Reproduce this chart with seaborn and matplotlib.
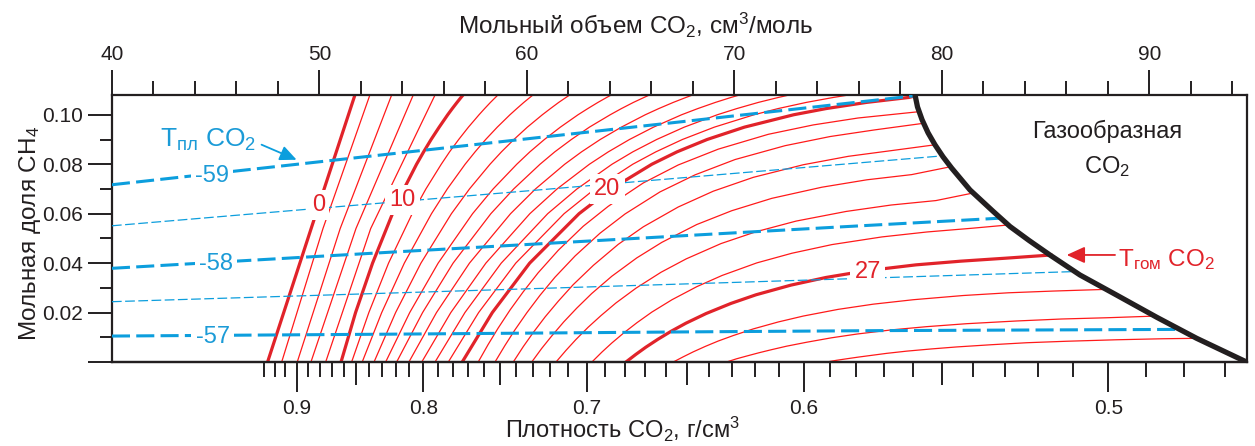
"""Vx diagram for CO2-CH4 inclusions: homogenisation and melting isolines."""

import numpy as np
import matplotlib
matplotlib.use("Agg")
import matplotlib.pyplot as plt
from matplotlib.ticker import FixedLocator, MultipleLocator, NullLocator
import seaborn as sns

sns.set_style("ticks")
plt.rcParams["font.family"] = ["Liberation Sans", "DejaVu Sans"]
plt.rcParams["mathtext.fontset"] = "custom"
plt.rcParams["mathtext.rm"] = "Liberation Sans"
plt.rcParams["mathtext.it"] = "Liberation Sans:italic"
plt.rcParams["mathtext.bf"] = "Liberation Sans:bold"
plt.rcParams["lines.scale_dashes"] = False

M_CO2 = 44.01  # g/mol, molar volume -> density

# ── Homogenisation isotherms (Tгом CO2, °C): molar volume V vs x(CH4) ─────
th_temps = [0, 2, 4, 6, 8, 10, 11, 12, 13, 14, 15, 16, 17, 18, 19, 20,
            21, 22, 23, 24, 25, 26, 27, 28, 29, 30]
th_bold = [0, 10, 20, 27]

low_x = [0, 0.054, 0.108]
steep_x = [0, 0.02, 0.04, 0.06, 0.07, 0.08, 0.085, 0.09, 0.095, 0.10,
           0.1025, 0.105, 0.107, 0.108]

th_v = [
    [47.50, 49.60, 51.71],
    [48.18, 50.17, 52.43],
    [48.93, 51.00, 53.48],
    [49.59, 51.76, 54.52],
    [50.30, 52.47, 55.57],
    [51.04, 51.74, 52.56, 53.52, 54.07, 54.68, 55.02, 55.38, 55.77, 56.18, 56.40, 56.63, 56.82, 56.92],
    [51.55, 52.38, 53.33, 54.47, 55.13, 55.87, 56.27, 56.71, 57.18, 57.69, 57.96, 58.24, 58.48, 58.60],
    [52.06, 53.00, 54.09, 55.40, 56.16, 57.02, 57.50, 58.01, 58.57, 59.18, 59.51, 59.85, 60.14, 60.29],
    [52.63, 53.67, 54.89, 56.36, 57.23, 58.22, 58.77, 59.37, 60.02, 60.74, 61.13, 61.53, 61.88, 62.06],
    [53.19, 54.35, 55.72, 57.38, 58.37, 59.51, 60.14, 60.84, 61.61, 62.46, 62.93, 63.42, 63.84, 64.06],
    [53.72, 54.97, 56.44, 58.26, 59.36, 60.63, 61.34, 62.14, 63.01, 64.01, 64.55, 65.13, 65.64, 65.90],
    [54.31, 55.64, 57.23, 59.21, 60.41, 61.82, 62.63, 63.53, 64.55, 65.70, 66.35, 67.05, 67.66, 67.98],
    [54.93, 56.33, 58.02, 60.14, 61.45, 63.01, 63.92, 64.94, 66.10, 67.45, 68.23, 69.08, 69.83, 70.24],
    [55.57, 57.01, 58.76, 61.00, 62.41, 64.10, 65.10, 66.25, 67.58, 69.17, 70.11, 71.15, 72.11, 72.64],
    [56.21, 57.67, 59.46, 61.79, 63.27, 65.10, 66.21, 67.49, 69.03, 70.94, 72.10, 73.46, 74.76, 75.50],
    [56.88, 58.33, 60.13, 62.51, 64.06, 66.02, 67.23, 68.68, 70.48, 72.85, 74.41, 76.36, 78.40, 78.75],
    [57.65, 58.13, 58.61, 59.19, 59.82, 60.54, 61.51, 62.71, 63.92, 65.60, 67.29, 69.22, 71.63, 73.80, 75.96, 78.95],
    [58.46, 58.94, 59.42, 60.00, 60.63, 61.35, 62.32, 63.52, 64.73, 66.41, 68.10, 70.03, 72.44, 74.61, 76.77, 79.15],
    [59.34, 59.82, 60.30, 60.88, 61.51, 62.23, 63.20, 64.40, 65.61, 67.29, 68.98, 70.91, 73.32, 75.49, 77.65, 79.70],
    [60.23, 60.71, 61.19, 61.77, 62.40, 63.12, 64.09, 65.29, 66.50, 68.18, 69.87, 71.80, 74.21, 76.38, 78.54, 80.48],
    [61.40, 61.88, 62.36, 62.94, 63.57, 64.29, 65.26, 66.46, 67.67, 69.35, 71.04, 72.97, 75.38, 77.55, 79.71, 81.58],
    [63.13, 63.61, 64.09, 64.67, 65.30, 66.02, 66.99, 68.19, 69.40, 71.08, 72.77, 74.70, 77.11, 79.28, 81.44, 83.28],
    [64.77, 65.25, 65.73, 66.31, 66.94, 67.66, 68.63, 69.83, 71.04, 72.72, 74.41, 76.34, 78.75, 80.92, 83.08, 85.28],
    [67.05, 67.53, 68.01, 68.59, 69.22, 69.94, 70.91, 72.11, 73.32, 75.00, 76.69, 78.62, 81.03, 83.20, 85.36, 87.98],
    [69.62, 70.10, 70.58, 71.16, 71.79, 72.51, 73.48, 74.68, 75.89, 77.57, 79.26, 81.19, 83.60, 85.77, 87.93, 90.35],
    [74.44, 74.92, 75.40, 75.98, 76.61, 77.33, 78.30, 79.50, 80.71, 82.39, 84.08, 86.01, 88.42, 90.59, 92.35],
]
th_x = [
    low_x, low_x, low_x, low_x, low_x,
    steep_x, steep_x, steep_x, steep_x, steep_x,
    steep_x, steep_x, steep_x, steep_x, steep_x,
    [0, 0.02, 0.04, 0.06, 0.07, 0.08, 0.085, 0.09, 0.095, 0.10, 0.1025, 0.105, 0.107, 0.1077],
    [0, 0.0071, 0.0137, 0.0211, 0.0284, 0.0361, 0.0452, 0.0549, 0.0630, 0.0724, 0.0797, 0.0861, 0.0921, 0.0959, 0.0987, 0.1013],
    [0, 0.0067, 0.0130, 0.0200, 0.0270, 0.0343, 0.0429, 0.0521, 0.0599, 0.0688, 0.0757, 0.0819, 0.0875, 0.0912, 0.0939, 0.0966],
    [0, 0.0062, 0.0119, 0.0183, 0.0246, 0.0313, 0.0391, 0.0476, 0.0547, 0.0627, 0.0691, 0.0747, 0.0798, 0.0832, 0.0856, 0.0879],
    [0, 0.0055, 0.0105, 0.0162, 0.0218, 0.0277, 0.0347, 0.0421, 0.0484, 0.0556, 0.0612, 0.0662, 0.0707, 0.0737, 0.0758, 0.0791],
    [0, 0.0047, 0.0091, 0.0140, 0.0188, 0.0239, 0.0299, 0.0363, 0.0417, 0.0479, 0.0527, 0.0570, 0.0609, 0.0635, 0.0653, 0.0685],
    [0, 0.0040, 0.0077, 0.0118, 0.0159, 0.0202, 0.0252, 0.0305, 0.0350, 0.0401, 0.0440, 0.0475, 0.0506, 0.0526, 0.0541, 0.0555],
    [0, 0.0031, 0.0060, 0.0092, 0.0124, 0.0157, 0.0196, 0.0237, 0.0272, 0.0311, 0.0342, 0.0369, 0.0393, 0.0408, 0.0420, 0.0433],
    [0, 0.0021, 0.0041, 0.0063, 0.0085, 0.0107, 0.0134, 0.0162, 0.0186, 0.0213, 0.0234, 0.0252, 0.0269, 0.0280, 0.0287, 0.0294],
    [0, 0.0013, 0.0024, 0.0037, 0.0050, 0.0064, 0.0080, 0.0098, 0.0113, 0.0130, 0.0143, 0.0155, 0.0166, 0.0174, 0.0179, 0.0186],
    [0, 0.0007, 0.0013, 0.0020, 0.0027, 0.0035, 0.0044, 0.0053, 0.0061, 0.0070, 0.0078, 0.0084, 0.0090, 0.0094, 0.0096],
]

# ── Melting isolines (Tпл CO2, °C) ─────────────────────────────────────────
tm_temps = [-59, -58.5, -58, -57.5, -57]
tm_v = [
    [40, 47, 54, 61, 68, 74, 78.6],
    [40, 50, 60, 70, 80.05],
    [40, 47, 54, 61, 68, 75, 82.85],
    [40, 55, 70, 86.45],
    [40, 54, 68, 77, 91.5],
]
tm_x = [
    [0.0717, 0.0782, 0.0847, 0.0912, 0.0977, 0.1033, 0.1076],
    [0.0551, 0.0622, 0.0692, 0.0763, 0.0834],
    [0.0379, 0.0413, 0.0447, 0.0480, 0.0513, 0.0546, 0.0582],
    [0.0244, 0.0283, 0.0322, 0.0366],
    [0.0105, 0.0113, 0.0122, 0.0127, 0.0132],
]

# ── Boundary of the liquid field (gaseous CO2 to the right) ────────────────
bound_v = [78.70, 78.82, 79.04, 79.33, 79.66, 80.05, 80.47, 81.35, 82.47,
           83.28, 84.19, 85.20, 86.65, 88.26, 90.35, 92.27, 94.68]
bound_x = [0.1081, 0.1032, 0.0980, 0.0927, 0.0879, 0.0830, 0.0784, 0.0696,
           0.0609, 0.0548, 0.0492, 0.0433, 0.0352, 0.0278, 0.0181, 0.0096, 0.0]

# label anchor points (V, x)
th_label_pos = {0: (49.94, 0.0636), 10: (54.02, 0.0656),
                20: (63.87, 0.0700), 27: (76.43, 0.0366)}
tm_label_pos = {-59: (44.83, 0.0752), -58: (45.01, 0.0395), -57: (44.85, 0.0103)}

DARK = "#231F20"
RED = "#FF1A1A"
RED_BOLD = "#E1232A"
BLUE = "#0C9EDD"
BLUE_TXT = "#1B9BD7"


def vol_to_rho(v):
    v = np.array(v, float)
    out = np.full_like(v, np.inf)
    nz = ~np.isclose(v, 0)
    out[nz] = M_CO2 / v[nz]
    return out


fig = plt.figure(figsize=(12.55, 4.46), dpi=100)
ax = fig.add_axes([0.0892, 0.1883, 0.9041, 0.5987])

for t, vv, xx in zip(th_temps, th_v, th_x):
    bold = t in th_bold
    sns.lineplot(x=vv, y=xx, ax=ax, sort=False, estimator=None,
                 color=RED_BOLD if bold else RED,
                 linewidth=2.3 if bold else 0.9, zorder=2)

for t, vv, xx in zip(tm_temps, tm_v, tm_x):
    major = float(t).is_integer()
    sns.lineplot(x=vv, y=xx, ax=ax, sort=False, estimator=None, color=BLUE,
                 linewidth=2.2 if major else 0.9, zorder=3)
    ax.lines[-1].set_dashes((13, 4.5) if major else (7, 2.5))

sns.lineplot(x=bound_v, y=bound_x, ax=ax, sort=False, estimator=None,
             color=DARK, linewidth=3.8, zorder=4)
ax.lines[-1].set_solid_capstyle("butt")
ax.lines[-1].set_solid_joinstyle("round")

box = dict(boxstyle="square,pad=0.18", fc="white", ec="none")
for t, (lv, lx) in th_label_pos.items():
    ax.text(lv, lx, str(t), color=RED_BOLD, fontsize=17, ha="center",
            va="center", bbox=box, zorder=5)
for t, (lv, lx) in tm_label_pos.items():
    ax.text(lv, lx, str(t), color=BLUE_TXT, fontsize=17, ha="center",
            va="center", bbox=box, zorder=5)

ax.text(44.63, 0.0899, r"T$_{\mathrm{пл}}$ CO$_2$", color=BLUE_TXT,
        fontsize=19, ha="center", va="center", zorder=5)
ax.annotate("", xy=(48.90, 0.0818), xytext=(47.21, 0.0879),
            arrowprops=dict(arrowstyle="-|>,head_length=1.0,head_width=0.45",
                            mutation_scale=10, color=BLUE, lw=1.3,
                            shrinkA=0, shrinkB=0), zorder=5)

ax.text(88.48, 0.0413, r"T$_{\mathrm{гом}}$ CO$_2$", color=RED_BOLD,
        fontsize=17.5, ha="left", va="center", zorder=5)
ax.annotate("", xy=(86.01, 0.0433), xytext=(88.34, 0.0433),
            arrowprops=dict(arrowstyle="-|>,head_length=1.1,head_width=0.5",
                            mutation_scale=10, color=RED_BOLD, lw=1.3,
                            shrinkA=0, shrinkB=0), zorder=5)

ax.text(87.97, 0.0932, "Газообразная", color=DARK, fontsize=17,
        ha="center", va="center")
ax.text(87.93, 0.0791, "CO$_2$", color=DARK, fontsize=17,
        ha="center", va="center")

# ── axes: molar volume on top, mole fraction on the left ───────────────────
ax.set_xlim(40, 94.68)
ax.set_ylim(0, 0.108)
ax.set_xlabel("")
ax.set_ylabel("")
ax.xaxis.tick_top()
ax.set_xticks(range(40, 91, 10))
ax.xaxis.set_minor_locator(MultipleLocator(2))
ax.set_yticks([0, 0.02, 0.04, 0.06, 0.08, 0.10],
              labels=["", "0.02", "0.04", "0.06", "0.08", "0.10"])
ax.yaxis.set_minor_locator(MultipleLocator(0.01))
ax.tick_params(axis="x", which="major", length=18, width=1.4, color=DARK,
               labelsize=15, labelcolor=DARK, pad=4, top=True, bottom=False)
ax.tick_params(axis="x", which="minor", length=10, width=1.4, color=DARK,
               top=True, bottom=False)
ax.tick_params(axis="y", which="major", length=17, width=1.4, color=DARK,
               labelsize=15, labelcolor=DARK, pad=4, right=False)
ax.tick_params(axis="y", which="minor", length=8.5, width=1.4, color=DARK,
               right=False)
for sp in ax.spines.values():
    sp.set_visible(True)
    sp.set_linewidth(1.6)
    sp.set_color(DARK)

# ── density scale on the bottom ────────────────────────────────────────────
rho_minor = [r for r in np.round(np.arange(0.47, 0.935, 0.01), 2)
             if round(r * 100) % 5 != 0]
ax_rho = ax.secondary_xaxis("bottom", functions=(vol_to_rho, vol_to_rho))
ax_rho.set_xticks([0.5, 0.6, 0.7, 0.8, 0.9],
                  labels=["0.5", "0.6", "0.7", "0.8", "0.9"])
ax_rho.xaxis.set_minor_locator(FixedLocator(rho_minor))
ax_rho.tick_params(which="major", length=21.5, width=1.4, color=DARK,
                   labelsize=15, labelcolor=DARK, pad=5)
ax_rho.tick_params(which="minor", length=11, width=1.4, color=DARK)
ax_rho.spines["bottom"].set_linewidth(1.6)
ax_rho.spines["bottom"].set_color(DARK)

ax_mid = ax.secondary_xaxis("bottom", functions=(vol_to_rho, vol_to_rho))
ax_mid.set_xticks([0.55, 0.65, 0.75, 0.85], labels=["", "", "", ""])
ax_mid.xaxis.set_minor_locator(NullLocator())
ax_mid.tick_params(which="major", length=16.5, width=1.4, color=DARK)
ax_mid.spines["bottom"].set_visible(False)

fig.text(0.506, 0.944, "Мольный объем CO$_2$, см$^3$/моль", color=DARK,
         fontsize=17.5, ha="center", va="center")
fig.text(0.4956, 0.036, "Плотность CO$_2$, г/см$^3$", color=DARK,
         fontsize=17, ha="center", va="center")
fig.text(0.0239, 0.4776, "Мольная доля CH$_4$", color=DARK, fontsize=17.5,
         rotation=90, ha="center", va="center")

fig.savefig("out.png", dpi=100)
